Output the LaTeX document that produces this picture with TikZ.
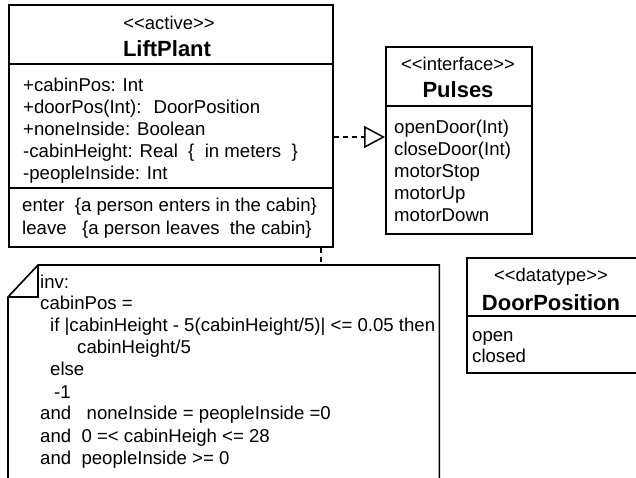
\documentclass[tikz,border=0pt]{standalone}
\usepackage{fontspec}
\setmainfont{Liberation Sans}
\usetikzlibrary{arrows.meta}
\begin{document}
\begin{tikzpicture}[x=1pt,y=-1pt,
  box/.style={draw,line width=1.6pt,rectangle,inner sep=0pt,anchor=north west},
  txt/.style={anchor=base west,inner sep=0pt,font=\fontsize{18.6}{22}\selectfont},
  stereo/.style={anchor=base,inner sep=0pt,font=\fontsize{18.4}{22}\selectfont},
  classname/.style={anchor=base,inner sep=0pt,font=\fontsize{22}{26}\selectfont\bfseries},
  sep/.style={line width=1.6pt},
  dep/.style={line width=1.5pt,dash pattern=on 5pt off 4pt}]
\useasboundingbox (0,0) rectangle (636,477);
\clip (0,0) rectangle (636,477);

% ---- class LiftPlant ----
\node[box,minimum width=324pt,minimum height=242pt] (lift) at (8,4) {};
\draw[sep] (8,64) -- (332,64);
\draw[sep] (8,188) -- (332,188);
\node[stereo] (liftst) at (169,29) {<{}<active>{}>};
\node[classname] (liftname) at (167,56) {LiftPlant};
\node[txt] (la1) at (23,91) {+cabinPos: Int};
\node[txt] (la2) at (23,113) {+doorPos(Int):~ DoorPosition};
\node[txt] (la3) at (23,135) {+noneInside: Boolean};
\node[txt] (la4) at (23,157) {-cabinHeight: Real~ \{~ in meters~ \}};
\node[txt] (la5) at (23,179) {-peopleInside: Int};
\node[txt] (lo1) at (22,211) {enter~ \{a person enters in the cabin\}};
\node[txt] (lo2) at (22,234) {leave~~ \{a person leaves~ the cabin\}};

% ---- interface Pulses ----
\node[box,minimum width=146pt,minimum height=187pt] (pulses) at (385,46) {};
\draw[sep] (385,106) -- (531,106);
\node[stereo] (pulsesst) at (458,70) {<{}<interface>{}>};
\node[classname] (pulsesname) at (458,97) {Pulses};
\node[txt] (po1) at (394,133) {openDoor(Int)};
\node[txt] (po2) at (394,155) {closeDoor(Int)};
\node[txt] (po3) at (394,177) {motorStop};
\node[txt] (po4) at (394,199) {motorUp};
\node[txt] (po5) at (394,221) {motorDown};

% ---- datatype DoorPosition ----
\node[box,minimum width=200pt,minimum height=115pt] (door) at (466,257) {};
\draw[sep] (466,316) -- (666,316);
\node[stereo] (doorst) at (551,281) {<{}<datatype>{}>};
\node[classname] (doorname) at (551,310) {DoorPosition};
\node[txt] (dv1) at (472,341) {open};
\node[txt] (dv2) at (472,362) {closed};

% ---- invariant note ----
\node[anchor=north west,inner sep=0pt,minimum width=431pt,minimum height=240pt] (note) at (8,265) {};
\draw[sep] ([xshift=30pt]note.north west) -- (note.north east) -- (note.south east)
  -- (note.south west) -- ([yshift=-32pt]note.north west) -- cycle;
\draw[sep] ([xshift=30pt]note.north west) -- ([xshift=30pt,yshift=-32pt]note.north west)
  -- ([yshift=-32pt]note.north west);
\node[txt] (n1) at (40,288) {inv:};
\node[txt] (n2) at (40,309) {cabinPos =};
\node[txt] (n3) at (50,331) {if |cabinHeight - 5(cabinHeight/5)| <{}= 0.05 then};
\node[txt] (n4) at (77,353) {cabinHeight/5};
\node[txt] (n5) at (50,375) {else};
\node[txt] (n6) at (54,398) {-1};
\node[txt] (n7) at (40,419) {and~~ noneInside = peopleInside =0};
\node[txt] (n8) at (40,442) {and~ 0 =<{} cabinHeigh <{}= 28};
\node[txt] (n9) at (40,464) {and~ peopleInside >{}= 0};

% ---- connectors ----
\coordinate (noteanchor) at (321,265);
\draw[dep,-{Triangle[open,length=21pt,width=22pt,line width=1.5pt]}]
  (lift.east |- 0,137) -- (pulses.west |- 0,137);
\draw[dep] (lift.south -| noteanchor) -- (noteanchor);
\end{tikzpicture}
\end{document}
